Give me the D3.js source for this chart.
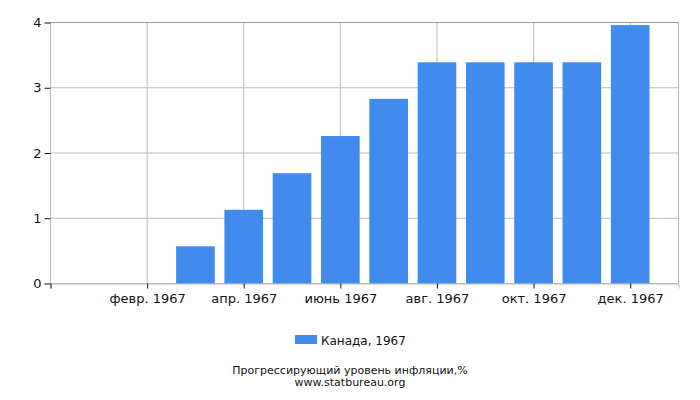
<!DOCTYPE html>
<html><head><meta charset="utf-8">
<script src="https://cdn.jsdelivr.net/npm/d3@7/dist/d3.min.js"></script>
<style>body{margin:0;background:#fff;} svg{display:block;} text{font-family:"DejaVu Sans",sans-serif;fill:#111;}</style>
</head><body><svg id="c" width="700" height="400"></svg>
<script>
const months = ["янв. 1967","февр. 1967","март 1967","апр. 1967","май 1967","июнь 1967","июль 1967","авг. 1967","сент. 1967","окт. 1967","нояб. 1967","дек. 1967"];
const values = [0, 0, 0.57, 1.13, 1.69, 2.26, 2.83, 3.39, 3.39, 3.39, 3.39, 3.96];
const yTicks = [0, 1, 2, 3, 4];
const seriesName = "Канада, 1967";
const title = "Прогрессирующий уровень инфляции,%";
const source = "www.statbureau.org";

const svg = d3.select("#c");
const L = 50.5, R = 678.5, T = 22.5, B = 283.5;
const x = d3.scaleLinear().domain([-1, months.length]).range([L, R]);
const y = d3.scaleLinear().domain([0, 4]).range([B, T]);
const bw = (x(1) - x(0)) * 0.8;

const g = svg.append("g");
g.selectAll(".hg").data(yTicks).enter().append("line")
  .attr("x1", L).attr("x2", R).attr("y1", d => y(d)).attr("y2", d => y(d))
  .attr("stroke", "#bbb").attr("stroke-width", 1);
const tickIdx = months.map((m, i) => i).filter(i => i % 2 === 1);
g.selectAll(".vg").data(tickIdx).enter().append("line")
  .attr("x1", d => x(d)).attr("x2", d => x(d)).attr("y1", T).attr("y2", B)
  .attr("stroke", "#bbb").attr("stroke-width", 1);
g.append("line").attr("x1", L).attr("x2", R).attr("y1", T).attr("y2", T).attr("stroke", "#999");
g.append("line").attr("x1", R).attr("x2", R).attr("y1", T).attr("y2", B).attr("stroke", "#bbb");
g.append("line").attr("x1", L).attr("x2", L).attr("y1", T).attr("y2", B).attr("stroke", "#bbb");

g.selectAll(".bar").data(values).enter().append("rect")
  .attr("x", (d, i) => x(i) - bw / 2).attr("width", bw)
  .attr("y", d => y(d)).attr("height", d => y(0) - y(d))
  .attr("fill", "#428bee");

const xAxis = d3.axisBottom(x).tickValues([-1].concat(tickIdx))
  .tickFormat(d => d < 0 ? "" : months[d]).tickSize(5).tickPadding(5);
const xa = svg.append("g").attr("transform", `translate(0,${B})`).call(xAxis);
xa.select(".domain").attr("stroke", "#bbb");
xa.selectAll(".tick line").attr("stroke", "#111");
xa.selectAll("text").attr("font-size", 13).attr("font-family", "DejaVu Sans").attr("fill", "#111");

const yAxis = d3.axisLeft(y).tickValues(yTicks).tickFormat(d3.format("d")).tickSize(6).tickPadding(3);
const ya = svg.append("g").attr("transform", `translate(${L},0)`).call(yAxis);
ya.select(".domain").remove();
ya.selectAll(".tick line").attr("stroke", "#111");
ya.selectAll("text").attr("font-size", 13).attr("font-family", "DejaVu Sans").attr("fill", "#111");

svg.append("rect").attr("x", 295).attr("y", 335).attr("width", 22).attr("height", 9).attr("fill", "#428bee");
svg.append("text").attr("x", 321).attr("y", 345).attr("font-size", 12).text(seriesName);

svg.append("text").attr("x", 350).attr("y", 374).attr("text-anchor", "middle").attr("font-size", 11).text(title);
svg.append("text").attr("x", 350).attr("y", 385.5).attr("text-anchor", "middle").attr("font-size", 11).text(source);
</script></body></html>
